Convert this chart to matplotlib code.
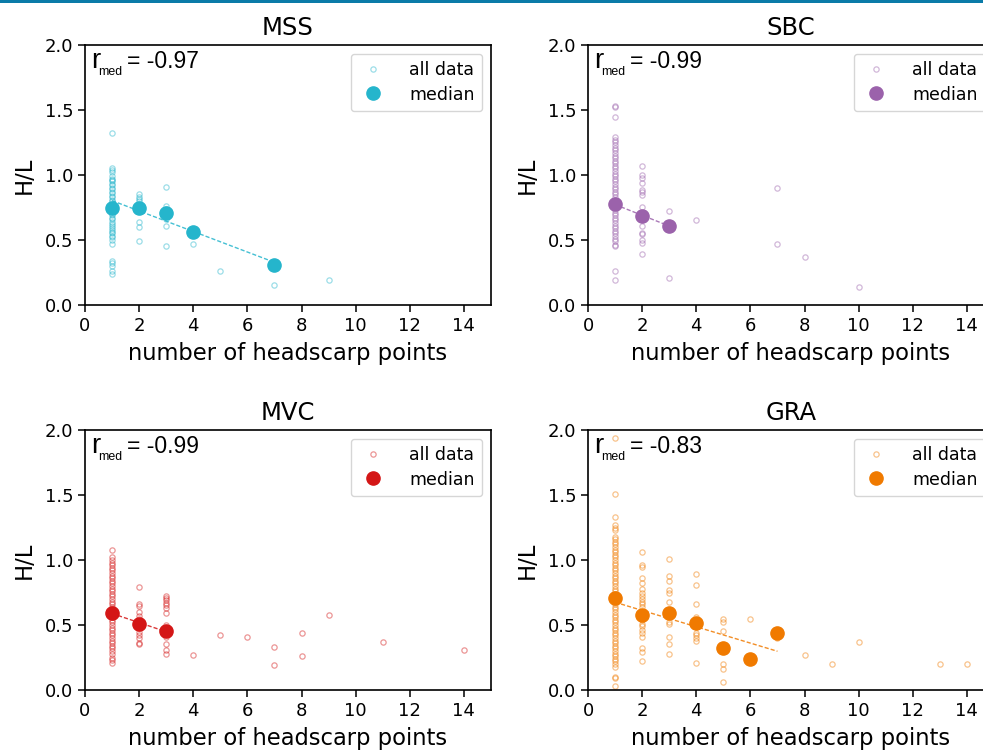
import numpy as np
import matplotlib.pyplot as plt
from matplotlib.patches import Rectangle

# ---- data ----
# MSS
mss_all = {
    1: [1.32, 1.05, 1.04, 1.02, 0.99, 0.97, 0.96, 0.95, 0.93, 0.92, 0.90, 0.89, 0.87, 0.86,
        0.84, 0.83, 0.81, 0.80, 0.78, 0.77, 0.75, 0.74, 0.72, 0.70, 0.69, 0.67, 0.66, 0.64,
        0.62, 0.61, 0.59, 0.58, 0.56, 0.55, 0.53, 0.52, 0.50, 0.47, 0.34, 0.32, 0.30, 0.26, 0.24],
    2: [0.85, 0.83, 0.815, 0.80, 0.76, 0.74, 0.72, 0.64, 0.60, 0.49],
    3: [0.91, 0.765, 0.74, 0.70, 0.66, 0.61, 0.45],
    4: [0.57, 0.47],
    5: [0.26],
    7: [0.31, 0.15],
    9: [0.19],
}
mss_med_x = [1, 2, 3, 4, 7]
mss_med_y = [0.745, 0.745, 0.705, 0.565, 0.305]

# SBC
sbc_all = {
    1: [1.53, 1.52, 1.45, 1.29, 1.27, 1.25, 1.23, 1.21, 1.19, 1.17, 1.15, 1.13, 1.11, 1.09,
        1.07, 1.05, 1.03, 1.01, 0.99, 0.97, 0.95, 0.93, 0.91, 0.89, 0.87, 0.85, 0.83, 0.81,
        0.79, 0.77, 0.75, 0.73, 0.71, 0.69, 0.67, 0.65, 0.63, 0.61, 0.59, 0.57, 0.55, 0.53,
        0.51, 0.49, 0.46, 0.45, 0.26, 0.19],
    2: [1.07, 1.00, 0.975, 0.935, 0.885, 0.87, 0.845, 0.755, 0.69, 0.66, 0.61, 0.555,
        0.545, 0.50, 0.475, 0.39],
    3: [0.72, 0.61, 0.59, 0.21],
    4: [0.65],
    7: [0.90, 0.47],
    8: [0.37],
    10: [0.14],
}
sbc_med_x = [1, 2, 3]
sbc_med_y = [0.775, 0.685, 0.61]

# MVC
mvc_all = {
    1: [1.08, 1.02, 1.00, 0.98, 0.96, 0.94, 0.92, 0.90, 0.88, 0.86, 0.84, 0.82, 0.80, 0.78,
        0.76, 0.74, 0.72, 0.70, 0.68, 0.66, 0.64, 0.62, 0.60, 0.58, 0.56, 0.54, 0.52, 0.50,
        0.48, 0.46, 0.44, 0.42, 0.40, 0.38, 0.36, 0.34, 0.32, 0.30, 0.28, 0.25, 0.23, 0.21],
    2: [0.79, 0.66, 0.645, 0.60, 0.57, 0.55, 0.51, 0.49, 0.475, 0.45, 0.42, 0.40, 0.365, 0.355],
    3: [0.725, 0.71, 0.69, 0.67, 0.655, 0.63, 0.595, 0.50, 0.46, 0.44, 0.41, 0.355, 0.31, 0.28],
    4: [0.27],
    5: [0.42],
    6: [0.41],
    7: [0.33, 0.19],
    8: [0.44, 0.26],
    9: [0.58],
    11: [0.37],
    14: [0.31],
}
mvc_med_x = [1, 2, 3]
mvc_med_y = [0.595, 0.505, 0.455]

# GRA
gra_all = {
    1: [1.94, 1.51, 1.33, 1.27, 1.25, 1.23, 1.18, 1.16, 1.14, 1.12, 1.10, 1.08, 1.06, 1.04,
        1.02, 1.00, 0.98, 0.96, 0.94, 0.92, 0.90, 0.88, 0.86, 0.84, 0.82, 0.80, 0.78, 0.76,
        0.74, 0.72, 0.70, 0.68, 0.66, 0.64, 0.62, 0.60, 0.58, 0.56, 0.54, 0.52, 0.50, 0.48,
        0.46, 0.44, 0.42, 0.40, 0.38, 0.36, 0.34, 0.32, 0.30, 0.28, 0.26, 0.24, 0.22, 0.20,
        0.18, 0.10, 0.09, 0.03],
    2: [1.06, 0.96, 0.945, 0.86, 0.82, 0.78, 0.745, 0.72, 0.70, 0.68, 0.66, 0.64, 0.60,
        0.58, 0.54, 0.51, 0.49, 0.46, 0.44, 0.41, 0.32, 0.29, 0.22],
    3: [1.01, 0.88, 0.835, 0.77, 0.75, 0.68, 0.60, 0.59, 0.525, 0.51, 0.41, 0.355, 0.28],
    4: [0.89, 0.81, 0.665, 0.565, 0.52, 0.44, 0.42, 0.40, 0.38, 0.205],
    5: [0.545, 0.525, 0.455, 0.33, 0.20, 0.165, 0.065],
    6: [0.545, 0.25, 0.24],
    7: [0.44, 0.40],
    8: [0.27],
    9: [0.20],
    10: [0.37],
    13: [0.20],
    14: [0.20],
}
gra_med_x = [1, 2, 3, 4, 5, 6, 7]
gra_med_y = [0.71, 0.58, 0.595, 0.515, 0.325, 0.24, 0.44]

names = ['MSS', 'SBC', 'MVC', 'GRA']
colors = ['#25b5cc', '#9b62ab', '#d41616', '#f07a00']
r_med = ['-0.97', '-0.99', '-0.99', '-0.83']
all_data = [mss_all, sbc_all, mvc_all, gra_all]
med_x = [mss_med_x, sbc_med_x, mvc_med_x, gra_med_x]
med_y = [mss_med_y, sbc_med_y, mvc_med_y, gra_med_y]

W, H = 983, 751
fig = plt.figure(figsize=(W / 100, H / 100), dpi=100)

# axes boxes in pixels: (left, top, right, bottom)
boxes = [(85, 45, 491, 305), (588, 45, 994, 305),
         (85, 430, 491, 690), (588, 430, 994, 690)]

for i in range(4):
    l, t, r, b = boxes[i]
    ax = fig.add_axes([l / W, 1 - b / H, (r - l) / W, (b - t) / H])
    c = colors[i]

    xs, ys = [], []
    for k, vals in all_data[i].items():
        xs += [k] * len(vals)
        ys += vals
    ax.plot(xs, ys, 'o', ms=3.8, mfc='none', mec=c, mew=0.9, alpha=0.45,
            label='all data', zorder=2)

    mx = np.array(med_x[i])
    my = np.array(med_y[i])
    ax.plot(mx, my, 'o', ms=9.5, color=c, label='median', zorder=4)
    p = np.polyfit(mx, my, 1)
    xf = np.array([mx.min(), mx.max()])
    ax.plot(xf, np.polyval(p, xf), '--', color=c, lw=1, dashes=(3, 1.5), alpha=0.85, zorder=3)

    ax.set_xlim(0, 15)
    ax.set_ylim(0, 2)
    ax.set_xticks(range(0, 15, 2))
    ax.set_yticks([0, 0.5, 1.0, 1.5, 2.0])
    ax.tick_params(labelsize=13, length=5, width=1.1)
    for s in ax.spines.values():
        s.set_linewidth(1.2)
    ax.set_title(names[i], fontsize=17.5, pad=7)
    ax.set_xlabel('number of headscarp points', fontsize=16.3, labelpad=5)
    ax.set_ylabel('H/L', fontsize=16.3, labelpad=6)

    # r_med label: big "r", small "med" subscript, then the value
    ax.annotate('r', xy=(0, 1), xycoords='axes fraction', xytext=(4.3, -16.6),
                textcoords='offset points', ha='left', va='baseline',
                fontsize=20, family='Liberation Sans')
    ax.annotate('med', xy=(0, 1), xycoords='axes fraction', xytext=(9.4, -21.6),
                textcoords='offset points', ha='left', va='baseline',
                fontsize=8.9, family='Liberation Sans')
    ax.annotate('= ' + r_med[i], xy=(0, 1), xycoords='axes fraction', xytext=(30.5, -16.6),
                textcoords='offset points', ha='left', va='baseline',
                fontsize=16.5, family='Liberation Sans')

    ax.legend(loc='upper right', fontsize=12.5, handletextpad=1.3, handlelength=1.6,
              labelspacing=0.35, borderpad=0.45)

# thin blue strip along the top edge of the page
fig.add_artist(Rectangle((0, 1 - 2.5 / H), 1, 2.5 / H, transform=fig.transFigure,
                         color='#0a7ba8', lw=0))

fig.savefig('out.png', dpi=100)
